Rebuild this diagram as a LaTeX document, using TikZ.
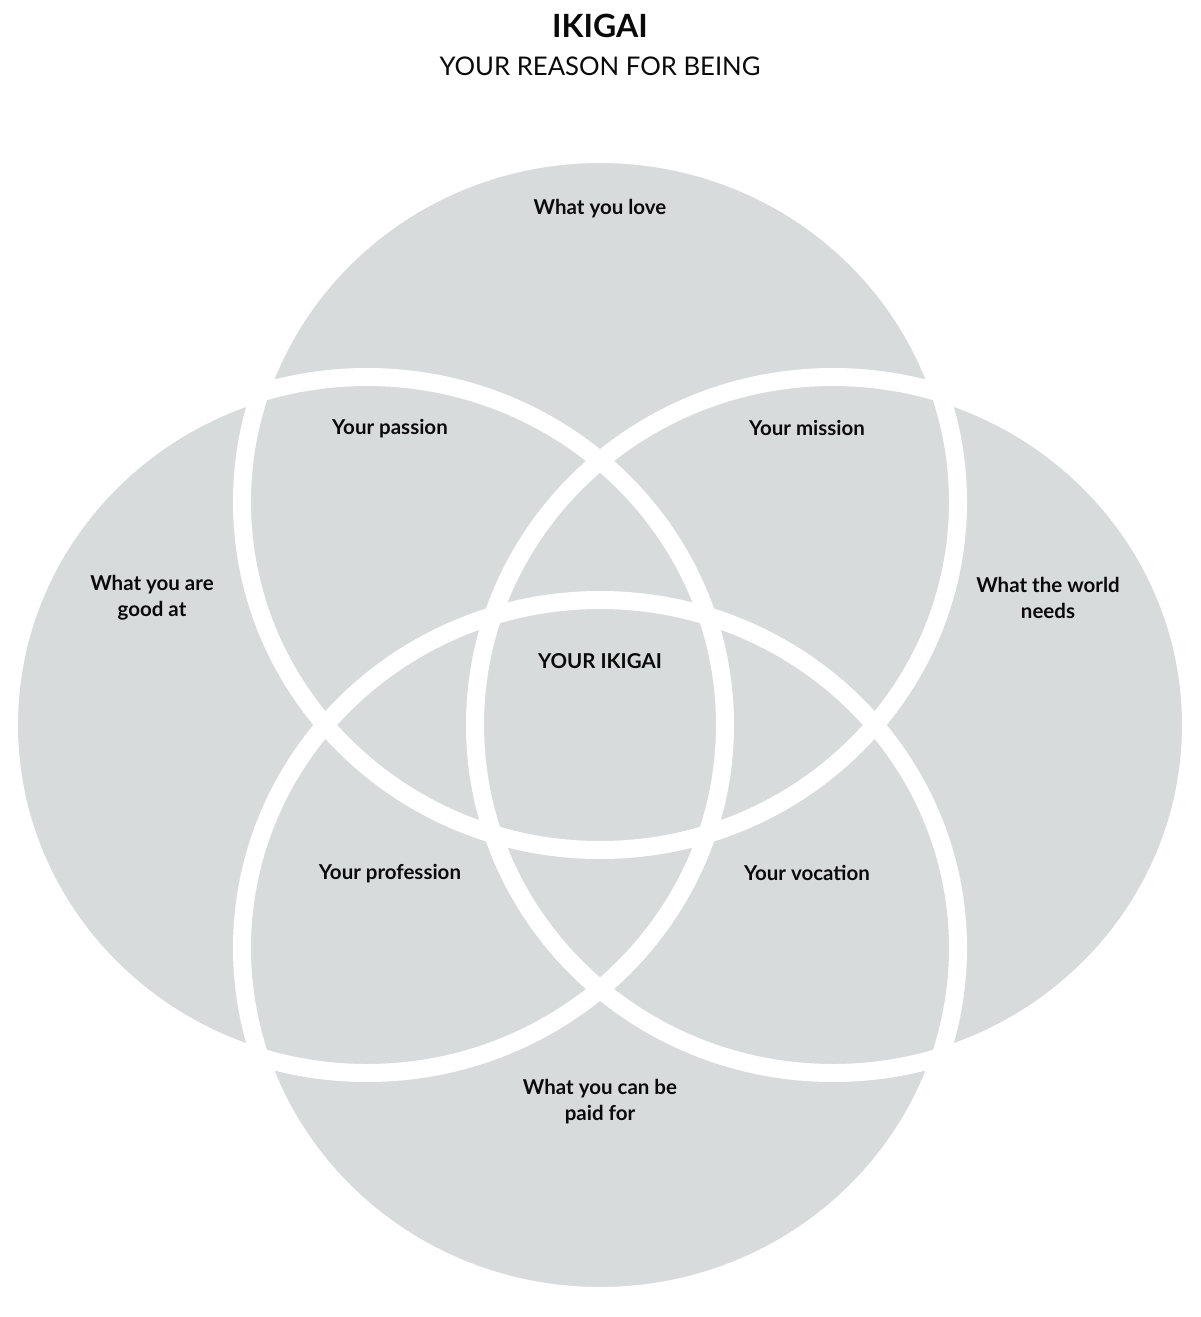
\documentclass[tikz,border=0pt]{standalone}
\usepackage{fontspec}
\setmainfont{Lato}
\usetikzlibrary{positioning}
\definecolor{ikfill}{HTML}{D8DBDC}
\definecolor{ikink}{HTML}{0A0A0A}

\begin{document}
\begin{tikzpicture}[x=1pt, y=-1pt,
  petal/.style={fill=ikfill},
  rim/.style={draw=white, line width=18pt},
  lbl/.style={font=\fontsize{20.5}{26}\selectfont\bfseries, text=ikink, align=center, inner sep=0pt},
  headline/.style={font=\fontsize{32}{38}\selectfont\bfseries, text=ikink, inner sep=0pt},
  subline/.style={font=\fontsize{25.7}{30}\selectfont, text=ikink, inner sep=0pt}]
  \useasboundingbox (0,0) rectangle (1200,1317);
  % petal centres
  \coordinate (cLove)  at (600,502);
  \coordinate (cGood)  at (367,725);
  \coordinate (cWorld) at (833,725);
  \coordinate (cPaid)  at (600,948);
  % grey petals first, then the white rims over them
  \foreach \c in {cLove, cGood, cWorld, cPaid}
    \fill[petal] (\c) ellipse [x radius=358, y radius=348];
  \foreach \c in {cLove, cGood, cWorld, cPaid}
    \draw[rim] (\c) ellipse [x radius=358, y radius=348];
  % heading
  \node[headline] (title) at (600,26) {IKIGAI};
  \node[subline] (subtitle) at (600,66) {YOUR REASON FOR BEING};
  % labels
  \node[lbl] (love)  at (600,209) {What you love};
  \node[lbl] (good)  at (152,598) {What you are\\good at};
  \node[lbl] (world) at (1048,598) {What the world\\needs};
  \node[lbl] (paid)  at (600,1102) {What you can be\\paid for};
  \node[lbl] (passion)    at (390,429) {Your passion};
  \node[lbl] (mission)    at (807,428) {Your mission};
  \node[lbl] (profession) at (390,874) {Your profession};
  \node[lbl] (vocation)   at (807,873) {Your vocation};
  \node[lbl] (ikigai)     at (600,661) {YOUR IKIGAI};
\end{tikzpicture}
\end{document}
